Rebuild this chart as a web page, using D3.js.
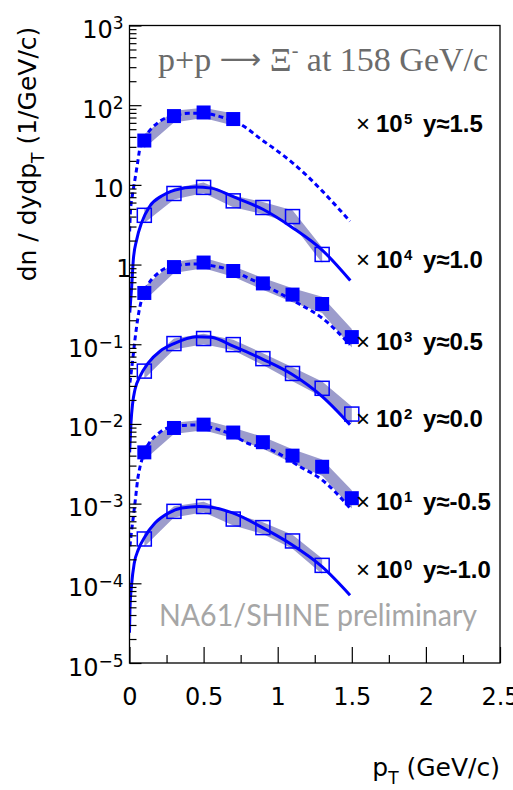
<!DOCTYPE html>
<html><head><meta charset="utf-8">
<script src="https://cdn.jsdelivr.net/npm/d3@7"></script>
<style>body{margin:0;background:#fff}svg{display:block}</style>
</head><body><svg id="c" width="513" height="790"></svg>
<script>
// ---------------- data (values as plotted, i.e. already multiplied by 10^k) ----------------
const pTBins = [0.1, 0.3, 0.5, 0.7, 0.9, 1.1, 1.3, 1.5];
const rapidityLabels = ["y≈1.5", "y≈1.0", "y≈0.5", "y≈0.0", "y≈-0.5", "y≈-1.0"];
const scaleExponents = [5, 4, 3, 2, 1, 0];
const filledMarker = [true, false, true, false, true, false];
const dashedFit = [true, false, true, false, true, false];

const spec_y15  = [36, 73, 81, 67];
const spec_y10  = [4.15, 7.8, 9.3, 6.3, 5.2, 4.0, 1.34];
const spec_y05  = [0.44, 0.93, 1.06, 0.83, 0.58, 0.42, 0.32, 0.123];
const spec_y00  = [0.046, 0.102, 0.118, 0.099, 0.066, 0.043, 0.028, 0.0133];
const spec_ym05 = [0.0044, 0.0089, 0.0098, 0.0078, 0.0059, 0.0040, 0.0029, 0.00117];
const spec_ym10 = [0.00036, 0.0008, 0.00092, 0.00064, 0.0005, 0.00034, 0.000168];

// relative systematic uncertainty (shaded band)
const sys_y15  = [0.2, 0.17, 0.15, 0.17];
const sys_y10  = [0.2, 0.16, 0.15, 0.17, 0.17, 0.2, 0.22];
const sys_y05  = [0.2, 0.16, 0.15, 0.15, 0.17, 0.2, 0.23, 0.26];
const sys_y00  = [0.2, 0.16, 0.15, 0.15, 0.17, 0.2, 0.22, 0.24];
const sys_ym05 = [0.2, 0.16, 0.15, 0.15, 0.17, 0.2, 0.23, 0.26];
const sys_ym10 = [0.2, 0.16, 0.15, 0.17, 0.17, 0.2, 0.22];

// fit curves
const fitPt_y15  = [0.001, 0.006, 0.019, 0.037, 0.055, 0.071, 0.1, 0.2, 0.3, 0.4, 0.5, 0.6, 0.7, 0.746, 0.903, 0.982, 1.1, 1.2, 1.3, 1.4, 1.488];
const fitVal_y15 = [2.6, 4.5, 7.3, 11.8, 19.1, 29.4, 38, 62, 74, 79, 79, 73, 63, 57.8, 35.6, 28.0, 18.9, 12.9, 8.4, 5.3, 3.5];
const fitPt_y10  = [0.002, 0.015, 0.026, 0.049, 0.082, 0.138, 0.217, 0.307, 0.442, 0.55, 0.7, 0.9, 1.1, 1.3, 1.49];
const fitVal_y10 = [0.25, 0.54, 1.16, 2.07, 3.36, 5.43, 7.26, 8.6, 9.4, 9.1, 7.1, 4.94, 2.9, 1.52, 0.63];
const fitPt_y05  = [0.003, 0.019, 0.037, 0.055, 0.071, 0.1, 0.2, 0.3, 0.45, 0.565, 0.7, 0.8, 0.9, 1.0, 1.151, 1.297, 1.488];
const fitVal_y05 = [0.033, 0.058, 0.115, 0.205, 0.30, 0.44, 0.80, 0.96, 1.02, 0.96, 0.83, 0.68, 0.56, 0.45, 0.316, 0.215, 0.099];
const fitPt_y00  = [0.001, 0.01, 0.021, 0.037, 0.071, 0.127, 0.206, 0.296, 0.453, 0.55, 0.7, 0.903, 1.099, 1.299, 1.488];
const fitVal_y00 = [0.0044, 0.0103, 0.018, 0.027, 0.0396, 0.0585, 0.0818, 0.101, 0.124, 0.122, 0.0946, 0.0643, 0.0417, 0.0222, 0.0098];
const fitPt_ym05  = [0.003, 0.01, 0.026, 0.042, 0.055, 0.071, 0.1, 0.2, 0.3, 0.45, 0.565, 0.7, 0.791, 0.96, 1.151, 1.297, 1.488];
const fitVal_ym05 = [0.00029, 0.00039, 0.00069, 0.00123, 0.0020, 0.0029, 0.0043, 0.0077, 0.0093, 0.0097, 0.0089, 0.0072, 0.0058, 0.0047, 0.0029, 0.0020, 0.00088];
const fitPt_ym10  = [0.0, 0.003, 0.015, 0.032, 0.059, 0.105, 0.172, 0.262, 0.352, 0.47, 0.55, 0.7, 0.903, 1.099, 1.299, 1.488];
const fitVal_ym10 = [2.4e-5, 4.6e-5, 1.0e-4, 1.79e-4, 2.63e-4, 3.87e-4, 5.7e-4, 7.6e-4, 8.8e-4, 9.2e-4, 9.0e-4, 7.6e-4, 4.93e-4, 3.03e-4, 1.62e-4, 7.1e-5];

const xMajorTicks = [0, 0.5, 1, 1.5, 2, 2.5];
const xTickLabels = ["0", "0.5", "1", "1.5", "2", "2.5"];
const yDecades = [-5, -4, -3, -2, -1, 0, 1, 2, 3];

const spectra = [spec_y15, spec_y10, spec_y05, spec_y00, spec_ym05, spec_ym10];
const systematics = [sys_y15, sys_y10, sys_y05, sys_y00, sys_ym05, sys_ym10];
const fitPts = [fitPt_y15, fitPt_y10, fitPt_y05, fitPt_y00, fitPt_ym05, fitPt_ym10];
const fitVals = [fitVal_y15, fitVal_y10, fitVal_y05, fitVal_y00, fitVal_ym05, fitVal_ym10];

// ---------------- layout ----------------
const L = 129.5, R = 500, T = 25.5, B = 663;
const labelBaselines = [132, 268, 350, 427, 510, 578];
const BLUE = "#0000ff", BAND = "#9c9ccc";

const svg = d3.select("#c");
const x = d3.scaleLinear().domain([0, 2.5]).range([L, R]);
const y = d3.scaleLog().domain([1e-5, 1e3]).range([B, T]);

svg.append("clipPath").attr("id", "plot")
  .append("rect").attr("x", L).attr("y", T).attr("width", R - L).attr("height", B - T);
const plot = svg.append("g").attr("clip-path", "url(#plot)");

// bands
spectra.forEach((vals, i) => {
  const pts = vals.map((v, j) => ({ p: pTBins[j], v, e: systematics[i][j] }));
  plot.append("path").datum(pts)
    .attr("fill", BAND).attr("stroke", "none")
    .attr("d", d3.area().x(d => x(d.p)).y0(d => y(d.v * (1 - d.e))).y1(d => y(d.v * (1 + d.e))));
});

// fit curves
fitPts.forEach((ps, i) => {
  const pts = ps.map((p, j) => ({ p, v: fitVals[i][j] }));
  plot.append("path").datum(pts)
    .attr("fill", "none").attr("stroke", BLUE)
    .attr("stroke-width", 3)
    .attr("stroke-dasharray", dashedFit[i] ? "5,3.5" : null)
    .attr("d", d3.line().x(d => x(d.p)).y(d => y(d.v)).curve(d3.curveMonotoneX));
});

// markers
const MS = 14;
spectra.forEach((vals, i) => {
  svg.append("g").selectAll("rect").data(vals).join("rect")
    .attr("x", (v, j) => x(pTBins[j]) - MS / 2)
    .attr("y", v => y(v) - MS / 2)
    .attr("width", MS).attr("height", MS)
    .attr("fill", filledMarker[i] ? BLUE : "none")
    .attr("stroke", BLUE)
    .attr("stroke-width", filledMarker[i] ? 0 : 1.5);
});

// axes
const yMajors = yDecades.map(e => Math.pow(10, e));
const yMinors = [];
yDecades.slice(0, -1).forEach(e => { for (let k = 2; k <= 9; k++) yMinors.push(k * Math.pow(10, e)); });
const xMinors = [0.25, 0.75, 1.25, 1.75, 2.25];

function styleAxis(g) {
  g.select(".domain").remove();
  g.selectAll("line").attr("stroke", "#000").attr("stroke-width", 1.2);
}
svg.append("g").attr("transform", `translate(${L},0)`)
  .call(d3.axisLeft(y).tickValues(yMinors).tickSizeInner(-7).tickSizeOuter(0).tickFormat(""))
  .call(styleAxis);
const yAx = svg.append("g").attr("transform", `translate(${L},0)`)
  .call(d3.axisLeft(y).tickValues(yMajors).tickSizeInner(-12).tickSizeOuter(0).tickPadding(6).tickFormat(""))
  .call(styleAxis);
svg.append("g").attr("transform", `translate(0,${B})`)
  .call(d3.axisBottom(x).tickValues(xMinors).tickSizeInner(-8).tickSizeOuter(0).tickFormat(""))
  .call(styleAxis);
const xAx = svg.append("g").attr("transform", `translate(0,${B})`)
  .call(d3.axisBottom(x).tickValues(xMajorTicks).tickSizeInner(-16).tickSizeOuter(0).tickFormat((d, i) => xTickLabels[i]))
  .call(styleAxis);
xAx.selectAll("text").attr("y", 42).attr("dy", null)
  .attr("font-family", "DejaVu Sans").attr("font-size", 24).attr("fill", "#000");

// y tick labels with superscripts
yAx.selectAll(".tick").each(function (d) {
  const e = Math.round(Math.log10(d));
  const t = d3.select(this).select("text")
    .attr("dy", null).attr("y", 12)
    .attr("font-family", "DejaVu Sans").attr("font-size", 24).attr("fill", "#000")
    .attr("text-anchor", "end").text(null);
  if (e === 0) { t.attr("x", 2).text("1"); }
  else if (e === 1) { t.attr("x", -6).text("10"); }
  else {
    t.attr("x", -6);
    t.append("tspan").text("10");
    t.append("tspan").attr("dy", -9).attr("font-size", 17).text(e < 0 ? "\u2212" + (-e) : String(e));
  }
});

// frame
svg.append("rect").attr("x", L).attr("y", T).attr("width", R - L).attr("height", B - T)
  .attr("fill", "none").attr("stroke", "#000").attr("stroke-width", 1.3);

// axis titles
const yt = svg.append("text").attr("transform", "translate(36,154) rotate(-90)")
  .attr("text-anchor", "middle").attr("font-family", "DejaVu Sans").attr("font-size", 25).attr("fill", "#000");
yt.append("tspan").text("dn / dydp");
yt.append("tspan").attr("dy", 8).attr("font-size", 17).text("T");
yt.append("tspan").attr("dy", -8).text(" (1/GeV/c)");

const xt = svg.append("text").attr("x", 500).attr("y", 776)
  .attr("text-anchor", "end").attr("font-family", "DejaVu Sans").attr("font-size", 25).attr("fill", "#000");
xt.append("tspan").text("p");
xt.append("tspan").attr("dy", 8).attr("font-size", 17).text("T");
xt.append("tspan").attr("dy", -8).text(" (GeV/c)");

// title
const tt = svg.append("text").attr("x", 158).attr("y", 71)
  .attr("font-family", "Liberation Serif").attr("font-size", 34).attr("fill", "#6b6b6b");
tt.append("tspan").text("p+p ");
tt.append("tspan").attr("font-family", "DejaVu Sans").attr("font-size", 29).attr("dy", -2).text("\u27F6");
tt.append("tspan").attr("dy", 2).text(" \u039E");
tt.append("tspan").attr("dy", -14).attr("font-size", 20).text("-");
tt.append("tspan").attr("dy", 14).text(" at 158 GeV/c");

// scale labels
rapidityLabels.forEach((lab, i) => {
  const t = svg.append("text").attr("y", labelBaselines[i]).attr("font-family", "Liberation Sans").attr("fill", "#000");
  t.append("tspan").attr("x", 356).attr("font-size", 24).text("\u00D7");
  t.append("tspan").attr("x", 376).attr("font-size", 24).attr("font-weight", "bold").text("10");
  t.append("tspan").attr("x", 404).attr("dy", -8).attr("font-size", 15).attr("font-weight", "bold").text(String(scaleExponents[i]));
  t.append("tspan").attr("x", 423).attr("dy", 8).attr("font-size", 24).attr("font-weight", "bold").text(lab);
});

// watermark
svg.append("text").attr("x", 159).attr("y", 626)
  .attr("font-family", "Lato").attr("font-size", 30).attr("fill", "#a6a6a6")
  .attr("textLength", 318).attr("lengthAdjust", "spacingAndGlyphs")
  .text("NA61/SHINE preliminary");
</script></body></html>
